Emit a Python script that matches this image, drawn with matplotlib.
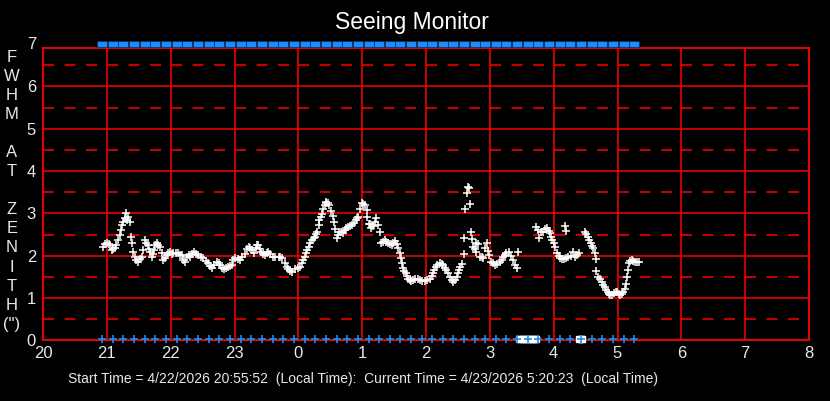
import numpy as np
import matplotlib
matplotlib.use("Agg")
import matplotlib.pyplot as plt

plt.rcParams['font.family'] = ['Liberation Sans', 'DejaVu Sans']
plt.rcParams['lines.scale_dashes'] = False

# hour of night (24 = midnight, 25 = 1 am ...) and FWHM at zenith in arcsec
fwhm_time = [
    20.945, 20.97, 21.00, 21.03, 21.05, 21.08, 21.10, 21.13, 21.15, 21.17,
    21.21, 21.22, 21.24, 21.26, 21.28, 21.30, 21.31, 21.33, 21.36, 21.38,
    21.40, 21.41, 21.44, 21.46, 21.49, 21.52, 21.55, 21.57, 21.60, 21.62,
    21.64, 21.66, 21.68, 21.70, 21.72, 21.74, 21.76, 21.78, 21.80, 21.83,
    21.86, 21.88, 21.91, 21.94, 21.96, 21.99, 22.02, 22.04, 22.08, 22.12,
    22.15, 22.17, 22.20, 22.22, 22.25, 22.28, 22.30, 22.34, 22.37, 22.40,
    22.43, 22.47, 22.51, 22.55, 22.59, 22.62, 22.65, 22.68, 22.72, 22.75,
    22.77, 22.80, 22.83, 22.87, 22.90, 22.93, 22.96, 22.98, 23.01, 23.05,
    23.09, 23.12, 23.16, 23.19, 23.22, 23.25, 23.27, 23.30, 23.33, 23.35,
    23.37, 23.40, 23.42, 23.45, 23.48, 23.51, 23.53, 23.56, 23.60, 23.64,
    23.69, 23.72, 23.75, 23.79, 23.82, 23.84, 23.87, 23.90, 23.95, 24.00,
    24.03, 24.06, 24.08, 24.10, 24.12, 24.14, 24.16, 24.19, 24.21, 24.24,
    24.26, 24.28, 24.30, 24.32, 24.33, 24.35, 24.37, 24.39, 24.41, 24.43,
    24.44, 24.46, 24.48, 24.51, 24.54, 24.56, 24.58, 24.60, 24.62, 24.64,
    24.67, 24.70, 24.73, 24.75, 24.78, 24.81, 24.84, 24.87, 24.90, 24.92,
    24.94, 24.97, 24.99, 25.02, 25.04, 25.07, 25.08, 25.10, 25.12, 25.14,
    25.17, 25.20, 25.22, 25.25, 25.28, 25.30, 25.33, 25.36, 25.38, 25.41,
    25.44, 25.46, 25.49, 25.51, 25.54, 25.56, 25.59, 25.61, 25.63, 25.64,
    25.66, 25.68, 25.70, 25.72, 25.75, 25.77, 25.80, 25.83, 25.87, 25.91,
    25.94, 25.98, 26.02, 26.06, 26.09, 26.11, 26.13, 26.15, 26.18, 26.22,
    26.25, 26.27, 26.30, 26.32, 26.35, 26.38, 26.41, 26.43, 26.46, 26.48,
    26.50, 26.52, 26.54, 26.56, 26.59, 26.60, 26.61, 26.64, 26.66, 26.68,
    26.69, 26.70, 26.72, 26.74, 26.76, 26.78, 26.79, 26.82, 26.85, 26.88,
    26.90, 26.92, 26.95, 26.97, 26.99, 27.02, 27.05, 27.08, 27.12, 27.16,
    27.19, 27.21, 27.24, 27.26, 27.30, 27.33, 27.36, 27.39, 27.42, 27.44,
    27.73, 27.75, 27.77, 27.80, 27.83, 27.86, 27.89, 27.92, 27.94, 27.96,
    27.98, 28.00, 28.02, 28.05, 28.08, 28.10, 28.13, 28.16, 28.17, 28.20,
    28.20, 28.23, 28.27, 28.30, 28.34, 28.36, 28.39, 28.49, 28.51, 28.54,
    28.56, 28.58, 28.60, 28.62, 28.64, 28.66, 28.67, 28.70, 28.72, 28.75,
    28.78, 28.80, 28.82, 28.85, 28.87, 28.89, 28.92, 28.95, 28.97, 28.99,
    29.02, 29.04, 29.07, 29.09, 29.11, 29.13, 29.15, 29.17, 29.18, 29.20,
    29.22, 29.25, 29.27, 29.30, 29.33,
]
fwhm_value = [
    2.21, 2.27, 2.31, 2.28, 2.25, 2.13, 2.15, 2.17, 2.25, 2.37,
    2.49, 2.61, 2.72, 2.80, 2.88, 3.00, 2.85, 2.92, 2.80, 2.45,
    2.31, 2.09, 1.98, 1.90, 1.86, 1.92, 1.98, 2.13, 2.37, 2.30,
    2.25, 2.15, 2.09, 1.98, 2.05, 2.13, 2.25, 2.29, 2.25, 2.21,
    2.06, 1.90, 1.95, 2.02, 2.06, 2.09, 2.05, 2.06, 2.07, 2.06,
    2.02, 2.02, 1.90, 1.86, 1.98, 2.02, 1.98, 2.05, 2.09, 2.05,
    2.02, 1.98, 1.94, 1.88, 1.82, 1.76, 1.70, 1.78, 1.86, 1.82,
    1.78, 1.72, 1.68, 1.72, 1.74, 1.76, 1.78, 1.90, 1.94, 1.92,
    1.90, 1.98, 2.04, 2.15, 2.21, 2.17, 2.13, 2.06, 2.18, 2.25,
    2.25, 2.15, 2.09, 2.05, 2.02, 2.06, 2.09, 2.03, 1.98, 1.97,
    1.98, 1.96, 1.94, 1.82, 1.74, 1.68, 1.64, 1.62, 1.68, 1.72,
    1.74, 1.82, 1.90, 1.98, 2.06, 2.14, 2.21, 2.30, 2.37, 2.42,
    2.45, 2.52, 2.57, 2.72, 2.84, 2.92, 2.98, 3.10, 3.20, 3.25,
    3.27, 3.24, 3.20, 3.05, 2.94, 2.80, 2.62, 2.41, 2.50, 2.57,
    2.55, 2.53, 2.60, 2.65, 2.68, 2.70, 2.72, 2.78, 2.84, 2.88,
    2.92, 3.10, 3.24, 3.22, 3.20, 3.08, 2.92, 2.76, 2.76, 2.65,
    2.70, 2.80, 2.88, 2.72, 2.55, 2.29, 2.33, 2.37, 2.33, 2.29,
    2.27, 2.25, 2.30, 2.35, 2.27, 2.19, 2.06, 1.94, 1.82, 1.70,
    1.64, 1.58, 1.52, 1.46, 1.42, 1.40, 1.43, 1.46, 1.44, 1.42,
    1.41, 1.40, 1.42, 1.45, 1.52, 1.58, 1.66, 1.74, 1.78, 1.82,
    1.80, 1.78, 1.72, 1.66, 1.58, 1.50, 1.42, 1.37, 1.43, 1.50,
    1.58, 1.66, 1.73, 1.80, 2.05, 2.42, 3.10, 3.47, 3.63, 3.59,
    3.21, 2.57, 2.40, 2.21, 2.15, 2.09, 2.29, 2.27, 1.98, 1.96,
    1.94, 2.17, 2.29, 2.10, 2.02, 1.86, 1.82, 1.78, 1.80, 1.84,
    1.90, 1.98, 2.02, 2.06, 2.09, 2.00, 1.90, 1.78, 1.70, 2.09,
    2.67, 2.60, 2.41, 2.55, 2.57, 2.62, 2.65, 2.58, 2.53, 2.45,
    2.37, 2.29, 2.21, 2.06, 2.00, 1.95, 1.91, 1.93, 2.70, 2.59,
    1.95, 1.98, 2.00, 2.09, 1.98, 2.02, 2.07, 2.57, 2.52, 2.45,
    2.37, 2.29, 2.22, 2.17, 2.06, 1.91, 1.64, 1.50, 1.44, 1.38,
    1.30, 1.25, 1.20, 1.13, 1.09, 1.07, 1.08, 1.11, 1.14, 1.15,
    1.10, 1.07, 1.10, 1.15, 1.22, 1.33, 1.50, 1.66, 1.82, 1.88,
    1.90, 1.88, 1.86, 1.85, 1.84,
]

# failed measurements, plotted at zero
failed_time = [27.46, 27.49, 27.52, 27.55, 27.58, 27.61, 27.64, 27.67, 27.70, 27.72,
               28.40, 28.43, 28.45]

# 10-minute status marks (top: telescope on sky, bottom: camera)
status_time = [20.93, 21.10, 21.26, 21.43, 21.60, 21.76, 21.93, 22.10, 22.26, 22.43,
               22.60, 22.76, 22.93, 23.10, 23.26, 23.43, 23.60, 23.76, 23.93, 24.10,
               24.26, 24.43, 24.60, 24.76, 24.93, 25.10, 25.26, 25.43, 25.60, 25.76,
               25.93, 26.10, 26.26, 26.43, 26.60, 26.76, 26.93, 27.10, 27.26, 27.43,
               27.60, 27.76, 27.93, 28.10, 28.26, 28.43, 28.60, 28.76, 28.93, 29.10,
               29.26]

hour_ticks = [20, 21, 22, 23, 24, 25, 26, 27, 28, 29, 30, 31, 32]
hour_labels = ['20', '21', '22', '23', '0', '1', '2', '3', '4', '5', '6', '7', '8']
ylabel_letters = ['F', 'W', 'H', 'M', '', 'A', 'T', '', 'Z', 'E', 'N', 'I', 'T', 'H', '(")']

title = 'Seeing Monitor'
footer = ('Start Time = 4/22/2026 20:55:52  (Local Time):  '
          'Current Time = 4/23/2026 5:20:23  (Local Time)')

W, H = 830, 401
fig = plt.figure(figsize=(W / 100, H / 100), dpi=100, facecolor='black')
ax = fig.add_axes([43 / W, 1 - 340.3 / H, (809 - 43) / W, (340.3 - 48.3) / H])
ax.set_facecolor('black')

red = '#ff0000'
txt = '#e8e8e8'
blue = '#1a8cff'

ax.set_xlim(20, 32)
ax.set_ylim(0, 6.9)

# grid: solid on the hour / integer, dashed on half values
for h in hour_ticks[1:-1]:
    ax.axvline(h, color=red, lw=1.1, zorder=1)
for v in range(1, 7):
    ax.axhline(v, color=red, lw=1.1, zorder=1)
for v in np.arange(0.5, 7, 1.0):
    for h in hour_ticks[:-1]:
        ax.hlines(v, h, h + 1, color=red, lw=1.1, linestyles=[(0, (7.9, 7.6))], zorder=1)

for s in ax.spines.values():
    s.set_color(red)
    s.set_linewidth(1.3)

ax.set_xticks(hour_ticks)
ax.set_xticklabels(hour_labels)
ax.set_yticks(range(0, 7))
ax.tick_params(length=0, colors=txt, labelsize=12, pad=4)
ax.tick_params(axis='y', pad=5)
ax.text(-0.008, 7, '7', transform=ax.get_yaxis_transform(), ha='right', va='center',
        color=txt, fontsize=12)

# status marks: wide blue blocks on top, small crosses at the bottom
block = [(-1, -0.5), (1, -0.5), (1, 0.5), (-1, 0.5), (-1, -0.5)]
ax.plot(status_time, [7] * len(status_time), ls='none', marker=block, ms=7.4,
        color=blue, mec='#05305a', mew=0.5, clip_on=False, zorder=4)
ax.plot(status_time, [0.03] * len(status_time), ls='none', marker='+', ms=5.5,
        mew=1.2, color=blue, clip_on=False, zorder=5)

# seeing data
ax.plot(fwhm_time, fwhm_value, ls='none', marker='+', ms=5.5, mew=1.1,
        color='white', zorder=3)
ax.plot(failed_time, [0.03] * len(failed_time), ls='none', marker='s', ms=4,
        color='white', clip_on=False, zorder=4)

fig.text(412 / W, 1 - 22 / H, title, ha='center', va='center', color='white', fontsize=16.5)
for i, ch in enumerate(ylabel_letters):
    if ch:
        fig.text(12 / W, 1 - (57 + i * 19.1) / H, ch, ha='center', va='center',
                 color=txt, fontsize=12)
fig.text(363 / W, 1 - 379 / H, footer, ha='center', va='center', color=txt, fontsize=10)

fig.savefig('out.png', dpi=100, facecolor='black')
